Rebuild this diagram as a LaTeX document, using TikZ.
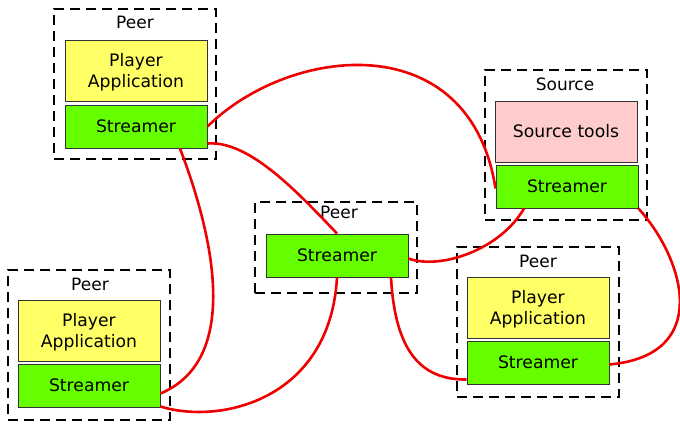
\documentclass[tikz,border=0pt]{standalone}
\usepackage{fontspec}
\setmainfont{DejaVu Sans}
\definecolor{appyellow}{HTML}{FFFF66}
\definecolor{strgreen}{HTML}{66FF00}
\definecolor{srcpink}{HTML}{FFCCCC}
\definecolor{linkred}{HTML}{EE0000}
\definecolor{edgegray}{HTML}{333333}
\newcommand{\playerapp}{\raisebox{-2pt}[\height][\depth]{\parbox{142pt}{\centering Player\\Application}}}
\begin{document}
\begin{tikzpicture}[x=1pt,y=-1pt,
  container/.style={draw=black,line width=2pt,dash pattern=on 10pt off 6pt,minimum width=162pt,inner sep=0pt},
  inner/.style={draw=edgegray,line width=1pt,minimum width=142pt,inner sep=0pt,align=center,font=\fontsize{17.2}{21}\selectfont},
  appbox/.style={inner,fill=appyellow,minimum height=61pt},
  srcbox/.style={inner,fill=srcpink,minimum height=61pt},
  strbox/.style={inner,fill=strgreen,minimum height=43pt},
  title/.style={inner sep=0pt,font=\fontsize{17}{20}\selectfont},
  link/.style={draw=linkred,line width=2.6pt}]
\useasboundingbox (0,0) rectangle (680,426);
% containers
\node[container,minimum height=150pt] (tlC) at (135,84) {};
\node[container,minimum height=150pt] (srcC) at (566,145) {};
\node[container,minimum height=91pt] (midC) at (336,247.5) {};
\node[container,minimum height=150pt] (blC) at (89,345) {};
\node[container,minimum height=150pt] (brC) at (538,322) {};
% titles
\node[title] (tlT) at (135,22) {Peer};
\node[title] (srcTl) at (565,84) {Source};
\node[title] (midT) at (339,212) {Peer};
\node[title] (blT) at (90,284) {Peer};
\node[title] (brT) at (538,261) {Peer};
% boxes
\node[appbox] (tlP) at (136,70.5) {\playerapp};
\node[strbox] (tlS) at (136,126.5) {Streamer};
\node[srcbox] (srcT) at (566,131.5) {Source tools};
\node[strbox] (srcS) at (567,186.5) {Streamer};
\node[strbox] (midS) at (337,255.5) {Streamer};
\node[appbox] (blP) at (89,330.5) {\playerapp};
\node[strbox] (blS) at (89,385.5) {Streamer};
\node[appbox] (brP) at (538,307.5) {\playerapp};
\node[strbox] (brS) at (538,362.5) {Streamer};
% links
\draw[link] (tlS.east) .. controls (290,45) and (470,25) .. ([yshift=-2pt]srcS.west);
\draw[link] ([yshift=5pt]tlS.south east) .. controls (250,140) and (300,195) .. (midS.north);
\draw[link] ([xshift=44pt]tlS.south) .. controls (215,240) and (240,360) .. ([yshift=14pt]blS.south east);
\draw[link] ([yshift=1pt]blS.south east) .. controls (220,425) and (330,400) .. (midS.south);
\draw[link] ([yshift=-3pt]midS.east) .. controls (440,270) and (500,250) .. ([xshift=-43pt]srcS.south);
\draw[link] ([xshift=54pt]midS.south) .. controls (395,350) and (420,380) .. ([yshift=5pt]brS.south west);
\draw[link] (srcS.south east) .. controls (685,260) and (712,355) .. ([yshift=20pt]brS.south east);
\end{tikzpicture}
\end{document}
